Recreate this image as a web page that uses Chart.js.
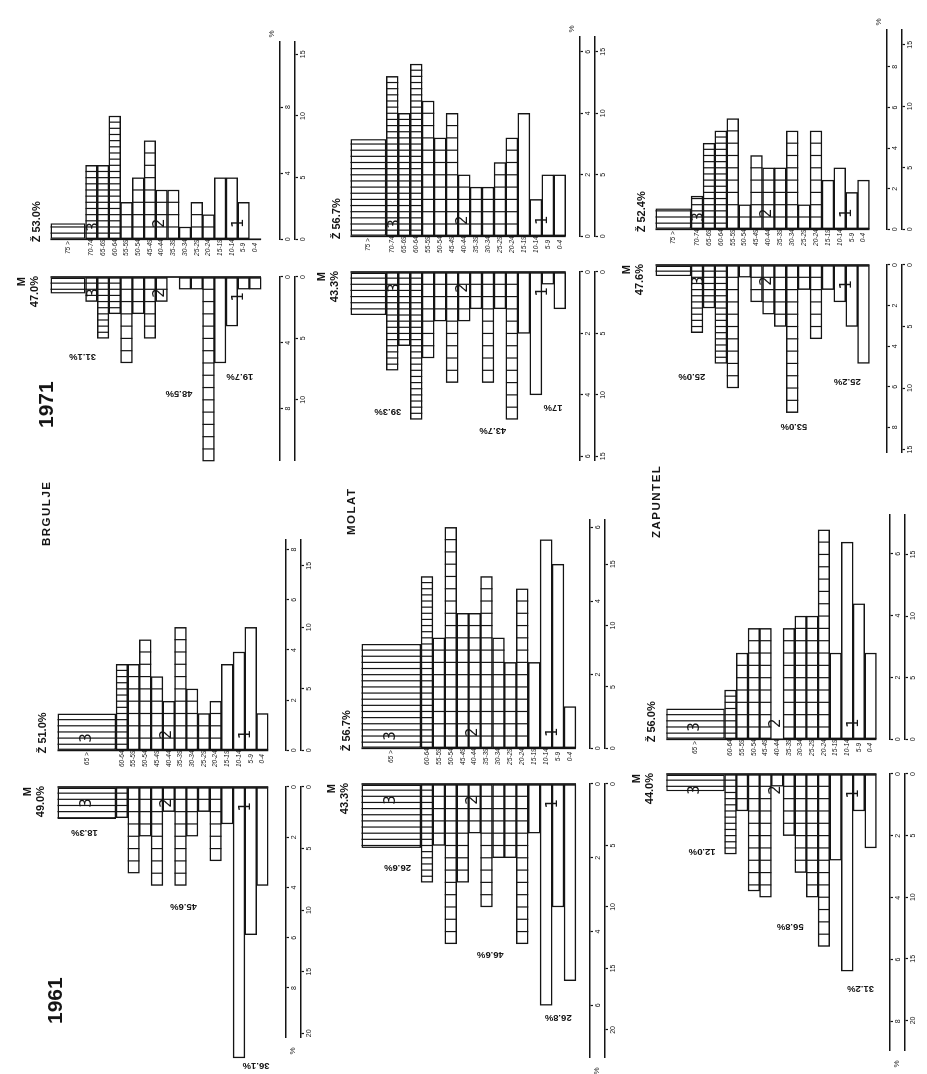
<!DOCTYPE html>
<html>
<head>
<meta charset="utf-8">
<script src="https://cdn.jsdelivr.net/npm/chart.js@4.4.1/dist/chart.umd.min.js"></script>
<style>
  html, body { margin: 0; padding: 0; background: #fff; overflow: hidden; }
  /* the sheet is laid out landscape and turned a quarter to the left, like the scan */
  #page { position: absolute; left: 0; top: 0; width: 1074px; height: 927px;
          transform-origin: 0 0; transform: translate(0, 1074px) rotate(-90deg);
          font-family: 'Liberation Sans', Arial, sans-serif; color: #151515; }
  #page canvas { position: absolute; }
  .year { position: absolute; font: bold 21px 'Liberation Sans Narrow', 'Liberation Sans', sans-serif; line-height: 1; }
  .place { position: absolute; font: bold 11.5px 'Liberation Sans', sans-serif; letter-spacing: 1.5px; line-height: 1; }
</style>
</head>
<body>
<div id="page"></div>
<script>
// Age groups, oldest first (first entry is the wide open-ended block)
const ages1961 = ['65 >', '60-64', '55-59', '50-54', '45-49', '40-44', '35-39', '30-34', '25-29', '20-24', '15-19', '10-14', '5-9', '0-4'];
const ages1971 = ['75 >', '70-74', '65-69', '60-64', '55-59', '50-54', '45-49', '40-44', '35-39', '30-34', '25-29', '20-24', '15-19', '10-14', '5-9', '0-4'];
// 3 = 60 and over (hatched), 2 = 20-59 (squares), 1 = 0-19 (open)
const group1961 = [3, 3, 2, 2, 2, 2, 2, 2, 2, 2, 1, 1, 1, 1];
const group1971 = [3, 3, 3, 3, 2, 2, 2, 2, 2, 2, 2, 2, 1, 1, 1, 1];

const villages = ['BRGULJE', 'MOLAT', 'ZAPUNTEL'];

// persons per age group (one square = one person)
const brgulje1961Z = [3.0, 7, 7, 9, 6, 4, 10, 5, 3, 4, 7, 8, 10, 3];
const brgulje1961M = [2.6, 2.5, 7, 4, 8, 2, 8, 4, 2, 6, 3, 22, 12, 8];
const molat1961Z = [8.5, 14, 9, 18, 11, 11, 14, 9, 7, 13, 7, 17, 15, 3.4];
const molat1961M = [5.2, 8, 5, 13, 8, 4, 10, 6, 6, 13, 4, 18, 10, 16];
const zapuntel1961Z = [2.5, 4, 7, 9, 9, 0, 9, 10, 10, 17, 7, 16, 11, 7];
const zapuntel1961M = [1.4, 6.5, 3, 9.5, 10, 1, 5, 8, 10, 14, 7, 16, 3, 6];

const brgulje1971Z = [1.3, 6, 6, 10, 3, 5, 8, 4, 4, 1, 3, 2, 5, 5, 3, 0];
const brgulje1971M = [1.35, 2, 5, 3, 7, 3, 5, 2, 0, 1, 1, 15, 7, 4, 1, 1];
const molat1971Z = [7.9, 13, 10, 14, 11, 8, 10, 5, 4, 4, 6, 8, 10, 3, 5, 5];
const molat1971M = [3.5, 8, 6, 12, 7, 4, 9, 4, 3, 9, 3, 12, 5, 10, 1, 3];
const zapuntel1971Z = [1.7, 2.7, 7, 8, 9, 2, 6, 5, 5, 8, 2, 8, 4, 5, 3, 4];
const zapuntel1971M = [0.9, 5.5, 3.5, 8, 10, 1, 3, 4, 5, 12, 2, 6, 2, 3, 5, 8];

// total inhabitants (for the % scale)
const total1961 = [204, 300, 251];
const total1971 = [134, 250, 165];

const maleShare1961 = ['49.0%', '43.3%', '44.0%'];
const femaleShare1961 = ['51.0%', '56.7%', '56.0%'];
const maleShare1971 = ['47.0%', '43.3%', '47.6%'];
const femaleShare1971 = ['53.0%', '56.7%', '52.4%'];

// share of each age group among men: group 3, 2, 1
const maleGroups1961 = [['18.3%', '45.6%', '36.1%'], ['26.6%', '46.6%', '26.8%'], ['12.0%', '56.8%', '31.2%']];
const maleGroups1971 = [['31.1%', '48.5%', '19.7%'], ['39.3%', '43.7%', '17%'], ['25.0%', '53.0%', '25.2%']];

const INK = '#141414';
const PPU = 12.3;   // pixels per person

// where each pyramid sits on the sheet
const layout1961 = [
    { top: 49.3, slot: 12.6, zBase: 323.3, mBase: 286.7, zMax: 17.1, mMax: 20.3, gap: 0.79, pStep: 2,
      gLab: [[3.7, -3.2], [9.7, 5.27], [22.6, 11.46]] },
    { top: 353.3, slot: 12.82, zBase: 325.7, mBase: 290, zMax: 18.6, mMax: 22.2, gap: 0.47, pStep: 2,
      gLab: [[6.8, -2.48], [13.9, 5.32], [19, 11.01]] },
    { top: 658.3, slot: 12.6, zBase: 334.7, mBase: 300, zMax: 18.2, mMax: 22.4, gap: 0.45, pStep: 2,
      gLab: [[6.3, -2.43], [12.4, 5.11], [17.4, 11.14]] }
];
const layout1971 = [
    { top: 42.7, slot: 12.5, zBase: 835, mBase: 797.3, zMax: 16.0, mMax: 14.9, gap: 0.98, pStep: 4,
      gLab: [[6.5, -0.76], [9.5, 7.48], [8.1, 12.68]] },
    { top: 343.3, slot: 12.74, zBase: 838, mBase: 802.3, zMax: 16.2, mMax: 15.3, gap: 0.57, pStep: 2,
      gLab: [[11.4, -0.38], [12.9, 8.4], [11, 13.43]] },
    { top: 648.3, slot: 12.69, zBase: 844.7, mBase: 809, zMax: 16.2, mMax: 15.2, gap: 0.84, pStep: 2,
      gLab: [[9.1, -0.45], [13.1, 8.14], [9.5, 12.63]] }
];

const page = document.getElementById('page');

// squares, hatching, base line and the hand lettering
const pyramidDecor = {
    id: 'pyr',
    afterDatasetsDraw(chart, args, o) {
        const ctx = chart.ctx;
        const xs = chart.scales.x, ys = chart.scales.y;
        ctx.save();
        ctx.strokeStyle = INK;
        ctx.fillStyle = INK;
        ctx.lineWidth = 1.2;
        chart.data.datasets.forEach((ds, di) => {
            if (!ds.step) return;
            chart.getDatasetMeta(di).data.forEach((bar, i) => {
                const v = ds.data[i].x, h = bar.height / 2;
                for (let k = ds.step; k < v - 0.05; k += ds.step) {
                    const px = xs.getPixelForValue(k);
                    ctx.beginPath();
                    ctx.moveTo(px, bar.y - h);
                    ctx.lineTo(px, bar.y + h);
                    ctx.stroke();
                }
            });
        });

        // base line along the age axis
        const x0 = xs.getPixelForValue(0);
        ctx.lineWidth = 1.7;
        ctx.beginPath();
        ctx.moveTo(x0, ys.getPixelForValue(ys.min));
        ctx.lineTo(x0, ys.getPixelForValue(o.lastRow + 0.5));
        ctx.stroke();

        // group numbers 3 / 2 / 1
        ctx.font = '15px "DejaVu Sans", sans-serif';
        ctx.textAlign = 'center';
        ctx.textBaseline = 'middle';
        o.digits.forEach(d => ctx.fillText(d[0], xs.getPixelForValue(d[1]), ys.getPixelForValue(d[2])));

        // sex and its share
        const top = chart.chartArea.top;
        ctx.font = 'bold 11px "Liberation Sans", sans-serif';
        if (o.male) {
            ctx.textAlign = 'right';
            ctx.fillText('M', x0, top - 21);
            ctx.fillText(o.share, x0 + 1, top - 8);
            // share of each age group, written along the bars
            ctx.font = 'bold 9.5px "Liberation Sans", sans-serif';
            o.groups.forEach(g => {
                ctx.save();
                ctx.translate(xs.getPixelForValue(g[1]), ys.getPixelForValue(g[2]));
                ctx.rotate(-Math.PI / 2);
                ctx.textAlign = 'center';
                ctx.fillText(g[0], 0, 0);
                ctx.restore();
            });
        } else {
            ctx.textAlign = 'left';
            ctx.fillText('Ž ' + o.share, x0 - 3, top - 6);
        }

        // per cent sign at the far end of the scale
        if (o.pctSign) {
            ctx.font = '8px "Liberation Sans", sans-serif';
            ctx.textAlign = 'center';
            const xe = xs.getPixelForValue(xs.max);
            if (o.male) ctx.fillText('%', xe - 14, chart.chartArea.bottom + 7);
            else ctx.fillText('%', xe + 8, chart.chartArea.bottom - 8);
        }
        ctx.restore();
    }
};

function ticksUpTo(max, step) {
    const out = [];
    for (let v = 0; v <= max + 1e-6; v += step) out.push({ value: v });
    return out;
}

function valueAxis(max, step, weight, reverse, height) {
    return {
        type: 'linear', min: 0, max: max, position: 'bottom', weight: weight, reverse: reverse,
        afterBuildTicks: s => { s.ticks = ticksUpTo(max, step); },
        afterFit: s => { s.height = height; },
        grid: { drawOnChartArea: false, drawTicks: true, tickLength: 3, tickColor: INK, tickWidth: 1.2 },
        border: { display: true, color: INK, width: 1.5 },
        ticks: { font: { size: 7, family: 'Liberation Sans' }, color: INK, padding: 1, autoSkip: false, maxRotation: 0 }
    };
}

function drawSide(values, groups, ages, L, total, male, share, groupPct, pctSign) {
    const nWide = ages1961.length === ages.length ? 5 : 3;
    const nNarrow = ages.length - 1;
    const wideAt = -(nWide + 1) / 2;
    const max = male ? L.mMax : L.zMax;
    const gapW = L.zBase - L.mBase;
    const padT = 30, padSide = 40, axH = 15;
    const areaH = (nWide + nNarrow + L.gap) * L.slot;

    const canvas = document.createElement('canvas');
    const width = male ? padSide + max * PPU + 2 : gapW + max * PPU + padSide;
    const height = padT + areaH + 2 * axH + 2;
    canvas.width = Math.round(width);
    canvas.height = Math.round(height);
    canvas.style.left = (male ? L.mBase + 2 - width : L.mBase) + 'px';
    canvas.style.top = (L.top - padT) + 'px';
    page.appendChild(canvas);

    const base = { backgroundColor: '#fff', borderColor: INK, borderWidth: 1.5, borderSkipped: false,
                   categoryPercentage: 1, barPercentage: 1, grouped: false, clip: false,
                   xAxisID: 'x', yAxisID: 'y' };
    const hatched = [], squares = [], open = [];
    for (let i = 1; i < values.length; i++) {
        const p = { x: values[i], y: i - 1 };
        if (groups[i] === 3) hatched.push(p); else if (groups[i] === 2) squares.push(p); else open.push(p);
    }
    const datasets = [
        Object.assign({}, base, { data: [{ x: values[0], y: wideAt }], barPercentage: nWide, step: 0.5 }),
        Object.assign({}, base, { data: hatched, step: 0.5 }),
        Object.assign({}, base, { data: squares, step: 1 }),
        Object.assign({}, base, { data: open, step: 0 })
    ];

    const tickPos = ages.map((a, i) => ({ value: i === 0 ? wideAt : i - 1 }));
    const g2 = groups.indexOf(2) - 1, g1 = groups.indexOf(1) - 1;
    const digits = [
        ['3', male ? 1.3 : 1.0, nWide === 5 ? wideAt : 0.2],
        ['2', male ? 1.3 : 1.3, (g2 + g1 - 1) / 2 - 0.6],
        ['1', male ? 1.6 : 1.3, (g1 + nNarrow - 1) / 2 + 0.1]
    ];

    new Chart(canvas, {
        type: 'bar',
        data: { datasets: datasets },
        options: {
            indexAxis: 'y',
            responsive: false,
            animation: false,
            layout: { padding: male ? { top: padT, left: padSide, right: 2, bottom: 2 }
                                    : { top: padT, left: 0, right: padSide, bottom: 2 } },
            plugins: {
                legend: { display: false },
                tooltip: { enabled: false },
                pyr: { male: male, share: share, groups: groupPct.map((t, k) => [t, L.gLab[k][0], L.gLab[k][1]]),
                       digits: digits, lastRow: nNarrow - 1, pctSign: pctSign }
            },
            scales: {
                y: {
                    type: 'linear', reverse: true, min: -nWide - 0.5, max: nNarrow - 0.5 + L.gap,
                    display: !male, position: 'left',
                    afterBuildTicks: s => { s.ticks = tickPos.map(t => ({ value: t.value })); },
                    afterFit: s => { s.width = male ? 0 : gapW; },
                    grid: { display: false, drawTicks: false },
                    border: { display: false },
                    ticks: { callback: (v, i) => ages[i], font: { size: 6.5, family: 'Liberation Sans', style: 'italic' },
                             color: INK, padding: 0, crossAlign: 'center', autoSkip: false }
                },
                x: valueAxis(max, 5, 2, male, axH),
                pct: valueAxis(max * 100 / total, L.pStep, 1, male, axH)
            }
        },
        plugins: [pyramidDecor]
    });
}

function drawPyramid(valuesZ, valuesM, groups, ages, L, total, shareM, shareZ, groupPct, year) {
    drawSide(valuesZ, groups, ages, L, total, false, shareZ, groupPct, year === '1971');
    drawSide(valuesM, groups, ages, L, total, true, shareM, groupPct, year === '1961');
}

drawPyramid(brgulje1961Z, brgulje1961M, group1961, ages1961, layout1961[0], total1961[0], maleShare1961[0], femaleShare1961[0], maleGroups1961[0], '1961');
drawPyramid(molat1961Z, molat1961M, group1961, ages1961, layout1961[1], total1961[1], maleShare1961[1], femaleShare1961[1], maleGroups1961[1], '1961');
drawPyramid(zapuntel1961Z, zapuntel1961M, group1961, ages1961, layout1961[2], total1961[2], maleShare1961[2], femaleShare1961[2], maleGroups1961[2], '1961');
drawPyramid(brgulje1971Z, brgulje1971M, group1971, ages1971, layout1971[0], total1971[0], maleShare1971[0], femaleShare1971[0], maleGroups1971[0], '1971');
drawPyramid(molat1971Z, molat1971M, group1971, ages1971, layout1971[1], total1971[1], maleShare1971[1], femaleShare1971[1], maleGroups1971[1], '1971');
drawPyramid(zapuntel1971Z, zapuntel1971M, group1971, ages1971, layout1971[2], total1971[2], maleShare1971[2], femaleShare1971[2], maleGroups1971[2], '1971');

// titles
function addText(cls, text, left, top) {
    const d = document.createElement('div');
    d.className = cls;
    d.textContent = text;
    d.style.left = left + 'px';
    d.style.top = top + 'px';
    page.appendChild(d);
}
addText('year', '1961', 50, 44);
addText('year', '1971', 646, 35);
addText('place', villages[0], 528, 41);
addText('place', villages[1], 539, 346);
addText('place', villages[2], 536, 651);
</script>
</body>
</html>
